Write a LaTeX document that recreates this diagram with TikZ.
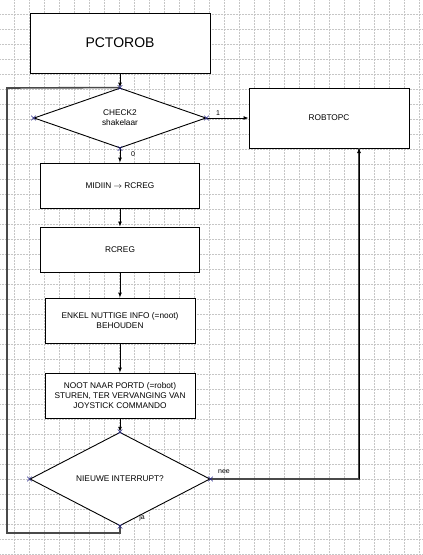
\documentclass[tikz,border=0pt]{standalone}
\usepackage{fontspec}
\setmainfont{Liberation Sans}
\usepackage{tikz}
\usetikzlibrary{arrows.meta, shapes.geometric, shapes.misc}
\definecolor{FCgrid}{HTML}{C6C6C6}
\definecolor{FCline}{HTML}{4A4A4A}
\definecolor{FCmark}{HTML}{2A2A8A}

\tikzset{
  block/.style={draw, line width=0.9pt, fill=white, align=center,
    inner sep=0pt, font=\fontsize{8.3}{10}\selectfont},
  decision/.style={diamond, draw, line width=0.9pt, fill=white, align=center,
    inner sep=0pt, font=\fontsize{8.3}{10}\selectfont},
  flow/.style={line width=0.9pt, -{Latex[length=5pt,width=4pt]}},
  loopline/.style={line width=1.6pt, draw=FCline},
  gridline/.style={densely dotted, line width=0.5pt, draw=FCgrid},
  cpt/.style={cross out, draw=FCmark, line width=0.6pt, minimum size=4pt, inner sep=0pt},
  lbl/.style={font=\fontsize{7}{8}\selectfont, inner sep=0pt}
}

\begin{document}
\begin{tikzpicture}[x=1pt, y=-1pt]
\useasboundingbox (0,0) rectangle (423,555);
% Grid
\foreach \gx in {14,29,...,419} \draw[gridline] (\gx,0) -- (\gx,555);
\foreach \gy in {14,29,...,554} \draw[gridline] (0,\gy) -- (423,\gy);

% Blocks
\node[block, minimum width=180pt, minimum height=60pt, font=\fontsize{14}{16}\selectfont]
  (pctorob) at (120,43) {PCTOROB};
\node[decision, minimum width=172pt, minimum height=60pt]
  (check) at (120,118) {CHECK2\\shakelaar};
\node[block, minimum width=160pt, minimum height=60pt] (robtopc) at (329,118) {ROBTOPC};
\node[block, minimum width=159pt, minimum height=45pt] (midiin) at (120,185.5) {MIDIIN $\rightarrow$ RCREG};
\node[block, minimum width=159pt, minimum height=45pt] (rcreg) at (120,249.5) {RCREG};
\node[block, minimum width=150pt, minimum height=45pt] (enkel) at (120,320.5)
  {ENKEL NUTTIGE INFO (=noot)\\BEHOUDEN};
\node[block, minimum width=150pt, minimum height=45pt] (noot) at (120,395.5)
  {NOOT NAAR PORTD (=robot)\\STUREN, TER VERVANGING VAN\\JOYSTICK COMMANDO};
\node[decision, minimum width=180pt, minimum height=64pt]
  (nieuwe) at (120,479) {NIEUWE INTERRUPT?};

% Corners of the loop
\coordinate (lpb) at (7,533);
\coordinate (lpt) at (7,88);
\coordinate (rtin) at (359,148);

% Connectors
\draw[loopline] (nieuwe.south) |- (lpb) -- (lpt) -- (check.north);
\draw[loopline] (nieuwe.east) -| (rtin);
\draw[flow] (rtin |- nieuwe.east) -- (rtin);
\draw[flow] (pctorob.south) -- (check.north);
\draw[flow] (check.south) -- (midiin.north);
\draw[flow] (check.east) -- (robtopc.west);
\draw[flow] (midiin.south) -- (rcreg.north);
\draw[flow] (rcreg.south) -- (enkel.north);
\draw[flow] (enkel.south) -- (noot.north);
\draw[flow] (noot.south) -- (nieuwe.north);

% Connection points
\foreach \a in {north,south,east,west} {
  \node[cpt] (c-check-\a) at (check.\a) {};
  \node[cpt] (c-nieuwe-\a) at (nieuwe.\a) {};
}

% Branch labels
\node[lbl] (l0) at (133,154) {0};
\node[lbl] (l1) at (218,113) {1};
\node[lbl] (lnee) at (224,472) {nee};
\node[lbl] (lja) at (142,518) {ja};
\end{tikzpicture}
\end{document}
